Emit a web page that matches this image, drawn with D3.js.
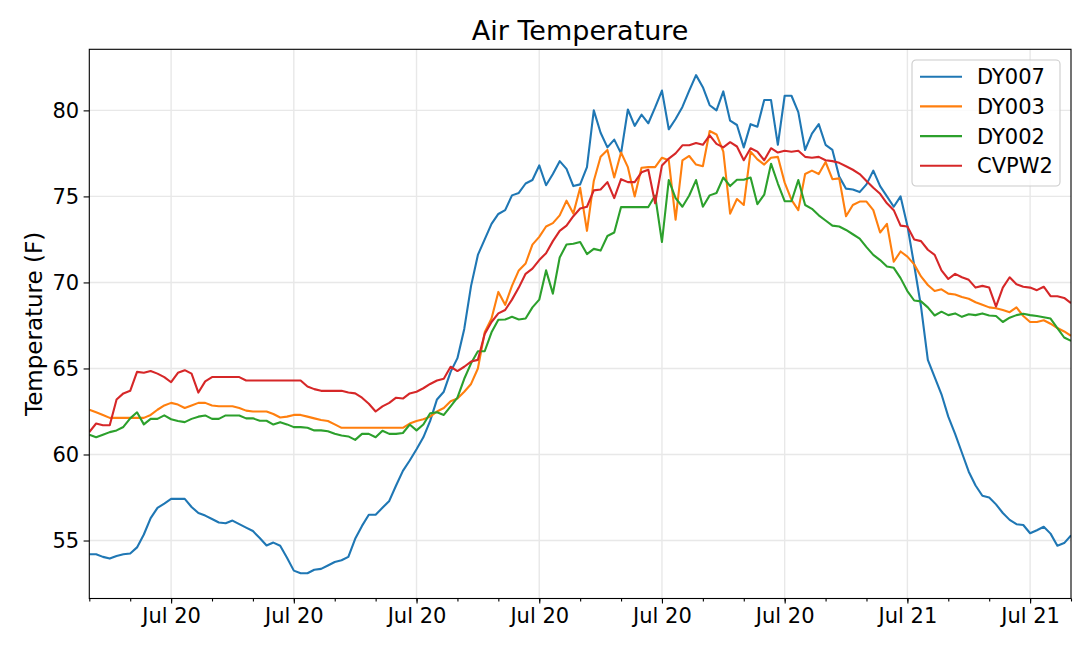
<!DOCTYPE html>
<html>
<head>
<meta charset="utf-8">
<script src="https://cdn.jsdelivr.net/npm/d3@7"></script>
<style>
  body { margin: 0; background: #fff; }
  svg { font-family: "DejaVu Sans", sans-serif; }
</style>
</head>
<body>
<div id="chart"></div>
<script>
// readings every 10 minutes, Jul 20 04:00 -> Jul 21 04:00
var startTime = new Date(2019, 6, 20, 4, 0);
var stepMinutes = 10;

var seriesNames = ["DY007", "DY003", "DY002", "CVPW2"];
var seriesColors = ["#1f77b4", "#ff7f0e", "#2ca02c", "#d62728"];

var dy007 = [
  54.2, 54.2, 54.05, 53.95, 54.1, 54.2, 54.25, 54.6, 55.35, 56.3,
  56.9, 57.15, 57.42, 57.42, 57.42, 56.95, 56.6, 56.45, 56.25, 56.05,
  56.0, 56.16, 55.95, 55.75, 55.55, 55.15, 54.71, 54.88, 54.7, 54.0,
  53.25, 53.1, 53.1, 53.3, 53.35, 53.55, 53.75, 53.85, 54.05, 55.1,
  55.85, 56.5, 56.5, 56.9, 57.3, 58.2, 59.05, 59.65, 60.3, 61.0,
  61.95, 63.2, 63.65, 64.8, 65.6, 67.3, 69.8, 71.6, 72.5, 73.4,
  73.98, 74.2, 75.06, 75.2, 75.75, 75.95, 76.8, 75.65, 76.3, 77.05,
  76.6, 75.6, 75.7, 76.7, 80.0, 78.7, 77.85, 78.3, 77.5, 80.05,
  79.1, 79.75, 79.25, 80.17, 81.15, 78.9, 79.5, 80.2, 81.15, 82.05,
  81.35, 80.3, 80.0, 81.1, 79.4, 79.15, 77.85, 79.2, 79.05, 80.6,
  80.6, 78.0, 80.85, 80.85, 79.9, 77.7, 78.65, 79.2, 78.0, 77.7,
  76.15, 75.45, 75.4, 75.25, 75.7, 76.5, 75.6, 75.0, 74.4, 75.0,
  73.3, 71.0, 68.6, 65.5, 64.5, 63.5, 62.2, 61.2, 60.1, 59.0,
  58.2, 57.6, 57.5, 57.1, 56.6, 56.2, 55.95, 55.9, 55.42, 55.6,
  55.8, 55.4, 54.7, 54.85, 55.3
];

var dy003 = [
  62.6, 62.45, 62.3, 62.13, 62.13, 62.13, 62.13, 62.13, 62.13, 62.3,
  62.6, 62.85, 63.0, 62.9, 62.7, 62.85, 63.0, 63.0, 62.85, 62.8,
  62.8, 62.8, 62.7, 62.55, 62.5, 62.5, 62.5, 62.35, 62.15, 62.2,
  62.3, 62.3, 62.2, 62.1, 62.0, 61.95, 61.75, 61.55, 61.55, 61.55,
  61.55, 61.55, 61.55, 61.55, 61.55, 61.55, 61.55, 61.8, 61.95, 62.05,
  62.2, 62.5, 62.7, 63.1, 63.25, 63.65, 64.1, 65.0, 67.1, 67.9,
  69.45, 68.7, 69.8, 70.7, 71.1, 72.2, 72.65, 73.25, 73.45, 73.9,
  74.75, 74.0, 75.5, 73.0, 75.9, 77.3, 77.7, 76.1, 77.55, 76.7,
  75.0, 76.67, 76.7, 76.7, 77.25, 77.1, 73.65, 77.1, 77.35, 76.85,
  76.75, 78.8, 78.6, 77.6, 74.0, 74.85, 74.5, 77.6, 77.15, 76.85,
  77.25, 77.3, 75.8, 74.8, 74.2, 76.3, 76.5, 76.3, 77.0, 76.0,
  76.05, 73.85, 74.5, 74.7, 74.7, 74.2, 72.9, 73.4, 71.2, 71.8,
  71.5, 71.05, 70.35, 69.85, 69.5, 69.6, 69.35, 69.3, 69.15, 69.05,
  68.85, 68.7, 68.55, 68.5, 68.4, 68.27, 68.55, 68.05, 67.7, 67.7,
  67.8, 67.6, 67.35, 67.15, 66.9
];

var dy002 = [
  61.15, 61.0, 61.15, 61.3, 61.4, 61.6, 62.1, 62.45, 61.75, 62.07,
  62.07, 62.27, 62.05, 61.95, 61.88, 62.07, 62.2, 62.27, 62.07, 62.07,
  62.27, 62.27, 62.27, 62.1, 62.1, 61.96, 61.96, 61.74, 61.88, 61.75,
  61.59, 61.59, 61.55, 61.4, 61.4, 61.35, 61.2, 61.1, 61.05, 60.85,
  61.2, 61.2, 61.0, 61.38, 61.2, 61.2, 61.25, 61.74, 61.4, 61.74,
  62.4, 62.46, 62.3, 62.8, 63.3, 64.4, 65.3, 66.0, 66.0, 67.1,
  67.83, 67.85, 68.0, 67.85, 67.9, 68.55, 69.0, 70.7, 69.35, 71.45,
  72.2, 72.25, 72.35, 71.65, 71.95, 71.85, 72.7, 72.9, 74.38, 74.38,
  74.38, 74.38, 74.38, 75.05, 72.35, 75.95, 74.9, 74.4, 75.05, 75.95,
  74.4, 75.06, 75.2, 76.1, 75.6, 75.97, 75.97, 76.1, 74.55, 75.1,
  76.9, 75.75, 74.72, 74.72, 75.95, 74.5, 74.28, 73.9, 73.6, 73.3,
  73.25, 73.05, 72.8, 72.55, 72.05, 71.6, 71.3, 70.93, 70.85, 70.25,
  69.5, 68.95, 68.9, 68.55, 68.08, 68.3, 68.1, 68.2, 68.0, 68.15,
  68.1, 68.2, 68.08, 68.05, 67.7, 67.95, 68.1, 68.18, 68.1, 68.05,
  67.98, 67.9, 67.35, 66.8, 66.6
];

var cvpw2 = [
  61.3, 61.8, 61.7, 61.7, 63.2, 63.55, 63.7, 64.8, 64.75, 64.85,
  64.7, 64.5, 64.2, 64.75, 64.9, 64.7, 63.6, 64.25, 64.5, 64.5,
  64.5, 64.5, 64.5, 64.3, 64.3, 64.3, 64.3, 64.3, 64.3, 64.3,
  64.3, 64.3, 63.95, 63.8, 63.7, 63.7, 63.7, 63.7, 63.6, 63.55,
  63.3, 62.95, 62.5, 62.8, 63.0, 63.3, 63.25, 63.55, 63.65, 63.85,
  64.1, 64.3, 64.4, 65.1, 64.85, 65.1, 65.4, 65.5, 67.0, 67.7,
  68.2, 68.4, 69.0, 69.7, 70.5, 70.8, 71.3, 71.7, 72.4, 73.0,
  73.3, 73.85, 74.3, 74.4, 75.35, 75.4, 75.83, 74.9, 76.0, 75.83,
  75.83, 76.4, 76.55, 74.6, 76.8, 77.2, 77.5, 77.97, 77.97, 78.1,
  78.0, 78.55, 78.05, 77.85, 78.15, 77.9, 77.1, 77.8, 77.6, 77.1,
  77.8, 77.55, 77.65, 77.6, 77.65, 77.3, 77.25, 77.3, 77.1, 77.05,
  76.95, 76.75, 76.55, 76.3, 75.9, 75.5, 75.15, 74.6, 74.2, 73.3,
  73.25, 72.5, 72.4, 71.9, 71.6, 70.7, 70.2, 70.5, 70.3, 70.15,
  69.7, 69.8, 69.7, 68.6, 69.7, 70.3, 69.9, 69.75, 69.7, 69.55,
  69.75, 69.2, 69.2, 69.1, 68.8
];

var yTicks = [55, 60, 65, 70, 75, 80];

var allSeries = [dy007, dy003, dy002, cvpw2];

var W = 1080, H = 660;
var margin = {top: 49.3, right: 9, bottom: 61.5, left: 89.3},
    width = W - margin.left - margin.right,
    height = H - margin.top - margin.bottom;

var svg = d3.select("#chart")
  .append("svg")
    .attr("width", W)
    .attr("height", H);

var g = svg.append("g")
    .attr("transform", "translate(" + margin.left + "," + margin.top + ")");

function timeAt(i) {
  return d3.timeMinute.offset(startTime, i * stepMinutes);
}

var x = d3.scaleTime()
  .domain([startTime, timeAt(dy007.length - 1)])
  .range([0, width]);

var y = d3.scaleLinear()
  .domain([51.63, 83.55])
  .range([height, 0]);

// grid
g.append("g")
  .selectAll("line")
  .data(x.ticks(d3.timeHour.every(3)))
  .enter().append("line")
    .attr("x1", function(d) { return x(d); })
    .attr("x2", function(d) { return x(d); })
    .attr("y1", 0)
    .attr("y2", height)
    .attr("stroke", "#e8e8e8")
    .attr("stroke-width", 1.4);

g.append("g")
  .selectAll("line")
  .data(yTicks)
  .enter().append("line")
    .attr("x1", 0)
    .attr("x2", width)
    .attr("y1", function(d) { return y(d); })
    .attr("y2", function(d) { return y(d); })
    .attr("stroke", "#e8e8e8")
    .attr("stroke-width", 1.4);

// lines
g.append("clipPath").attr("id", "clip")
  .append("rect").attr("width", width).attr("height", height);

var line = d3.line()
  .x(function(d, i) { return x(timeAt(i)); })
  .y(function(d) { return y(d); });

allSeries.forEach(function(s, k) {
  g.append("path")
    .datum(s)
    .attr("clip-path", "url(#clip)")
    .attr("fill", "none")
    .attr("stroke", seriesColors[k])
    .attr("stroke-width", 2.1)
    .attr("stroke-linejoin", "round")
    .attr("d", line);
});

// axes
var xMinor = g.append("g")
  .attr("transform", "translate(0," + height + ")")
  .call(d3.axisBottom(x).ticks(d3.timeHour.every(1)).tickSize(3).tickFormat(""));
xMinor.select(".domain").remove();

var xAxis = g.append("g")
  .attr("transform", "translate(0," + height + ")")
  .call(d3.axisBottom(x)
    .ticks(d3.timeHour.every(3))
    .tickFormat(d3.timeFormat("%b %d"))
    .tickSize(5)
    .tickPadding(5));
xAxis.select(".domain").remove();
xAxis.selectAll("text")
  .attr("font-size", 21)
  .attr("font-family", "DejaVu Sans")
  .attr("fill", "#000");

var yAxis = g.append("g")
  .call(d3.axisLeft(y)
    .tickValues(yTicks)
    .tickSize(5.7)
    .tickPadding(4.5));
yAxis.select(".domain").remove();
yAxis.selectAll("text")
  .attr("font-size", 21)
  .attr("font-family", "DejaVu Sans")
  .attr("fill", "#000");

g.selectAll(".tick line").attr("stroke", "#000").attr("stroke-width", 1.1);

// spines
g.append("rect")
  .attr("width", width)
  .attr("height", height)
  .attr("fill", "none")
  .attr("stroke", "#000")
  .attr("stroke-width", 1.1);

// title and y label
svg.append("text")
  .attr("x", margin.left + width / 2)
  .attr("y", 39.5)
  .attr("text-anchor", "middle")
  .attr("font-size", 27)
  .text("Air Temperature");

svg.append("text")
  .attr("transform", "translate(41.7," + (margin.top + height / 2) + ") rotate(-90)")
  .attr("text-anchor", "middle")
  .attr("font-size", 23)
  .text("Temperature (F)");

// legend
var legend = svg.append("g").attr("transform", "translate(912,60)");
legend.append("rect")
  .attr("width", 148)
  .attr("height", 126)
  .attr("rx", 4)
  .attr("fill", "#fff")
  .attr("fill-opacity", 0.8)
  .attr("stroke", "#cccccc")
  .attr("stroke-width", 1.1);

seriesNames.forEach(function(name, k) {
  var row = legend.append("g")
    .attr("transform", "translate(0," + (16.7 + k * 29.7) + ")");
  row.append("line")
    .attr("x1", 8).attr("x2", 50)
    .attr("stroke", seriesColors[k])
    .attr("stroke-width", 2.1);
  row.append("text")
    .attr("x", 65)
    .attr("dy", "0.36em")
    .attr("font-size", 21)
    .text(name);
});
</script>
</body>
</html>
